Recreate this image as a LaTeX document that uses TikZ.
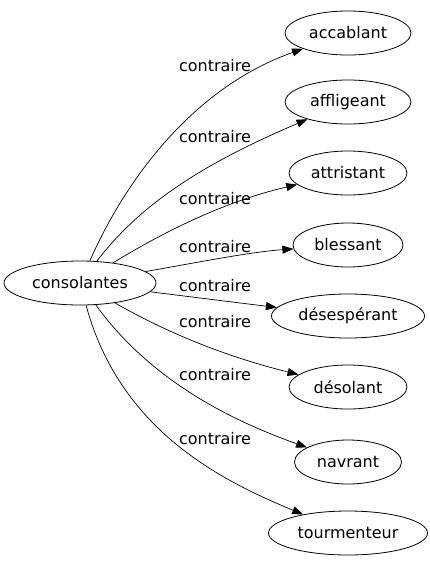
\documentclass[tikz,border=0pt]{standalone}
\usepackage{fontspec}
\setmainfont{DejaVu Sans}
\usetikzlibrary{shapes.geometric,arrows.meta}
\begin{document}
\begin{tikzpicture}[x=1pt,y=-1pt,
  word/.style={draw,line width=0.8pt,ellipse,inner sep=0pt,minimum height=44pt,font=\fontsize{16}{18}\selectfont},
  rel/.style={-{Triangle[length=11pt,width=8pt]},line width=0.7pt},
  lbl/.style={font=\fontsize{16}{18}\selectfont}]
\useasboundingbox (0,0) rectangle (430,563);
\node[word,minimum width=152pt] (c) at (80,283) {consolantes};
\node[word,minimum width=126pt] (a1) at (348,33) {accablant};
\node[word,minimum width=126pt] (a2) at (348,102) {affligeant};
\node[word,minimum width=118pt] (a3) at (348,173) {attristant};
\node[word,minimum width=110pt] (a4) at (348,245) {blessant};
\node[word,minimum width=153pt] (a5) at (348,316) {désespérant};
\node[word,minimum width=118pt] (a6) at (348,387) {désolant};
\node[word,minimum width=107pt] (a7) at (348,462) {navrant};
\node[word,minimum width=159pt] (a8) at (348,533) {tourmenteur};
\draw[rel] (c) .. controls (130,170) and (200,85) .. (a1);
\draw[rel] (c) .. controls (140,205) and (200,165) .. (a2);
\draw[rel] (c) .. controls (170,228) and (230,200) .. (a3);
\draw[rel] (c) .. controls (200,262) and (250,252) .. (a4);
\draw[rel] (c) .. controls (200,298) and (240,303) .. (a5);
\draw[rel] (c) .. controls (180,340) and (240,360) .. (a6);
\draw[rel] (c) .. controls (150,380) and (230,420) .. (a7);
\draw[rel] (c) .. controls (120,430) and (220,480) .. (a8);
\node[lbl] (l1) at (215,66) {contraire};
\node[lbl] (l2) at (215,137) {contraire};
\node[lbl] (l3) at (215,199) {contraire};
\node[lbl] (l4) at (215,247) {contraire};
\node[lbl] (l5) at (215,286) {contraire};
\node[lbl] (l6) at (215,322) {contraire};
\node[lbl] (l7) at (215,375) {contraire};
\node[lbl] (l8) at (215,439) {contraire};
\end{tikzpicture}
\end{document}
